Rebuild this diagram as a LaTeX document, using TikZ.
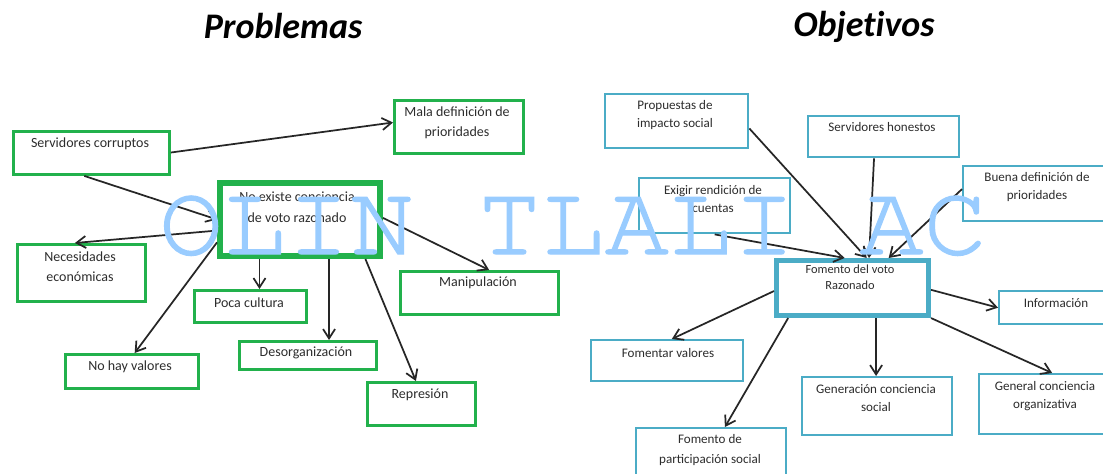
\documentclass[tikz,border=0pt]{standalone}
\usepackage{fontspec}
\setmainfont{Carlito}
\newfontfamily\wmfont{TeX Gyre Cursor}
\usetikzlibrary{arrows.meta,calc}
\definecolor{pgreen}{RGB}{34,177,76}
\definecolor{pteal}{RGB}{75,172,198}
\definecolor{wmblue}{RGB}{153,204,255}
\definecolor{txtc}{RGB}{45,45,45}
\newcommand\bx[6]{\node[#1, anchor=north west, minimum width={(#5-#3)*0.75pt}, minimum height={(#6-#4)*0.75pt}] (#2) at (#3,#4) {};}
\tikzset{
  gbox/.style={draw=pgreen, line width=2.2pt, inner sep=0pt, fill=white},
  gbig/.style={draw=pgreen, line width=4.5pt, inner sep=0pt, fill=white},
  tbox/.style={draw=pteal, line width=1.8pt, inner sep=0pt, fill=white},
  tbig/.style={draw=pteal, line width=3.8pt, inner sep=0pt, fill=white},
  ltxt/.style={text=txtc, font=\fontsize{10.5}{15}\selectfont, align=center, inner sep=0pt},
  rtxt/.style={text=txtc, font=\fontsize{9.8}{13.5}\selectfont, align=center, inner sep=0pt},
  ttl/.style={font=\fontsize{27}{30}\selectfont\bfseries\itshape\addfontfeatures{Ligatures=NoCommon}, anchor=base, inner sep=0pt},
  arr/.style={draw=black!85, line width=1.3pt, -{Straight Barb[length=7pt,width=9pt]}}
}
\begin{document}
\begin{tikzpicture}[x=0.75pt,y=-0.75pt]
\useasboundingbox[fill=white] (0,0) rectangle (1103,474);
% titles
\node[ttl] (tprob) at (283,39) {Problemas};
\node[ttl] (tobj) at (864,37) {Objetivos};
% ---------- left boxes ----------
\bx{gbox}{sc}{12}{130}{168}{173}
\bx{gbox}{mala}{393}{99}{522}{152}
\bx{gbig}{cen}{217}{180}{377}{253}
\bx{gbox}{nec}{16}{243}{144}{300}
\bx{gbox}{manip}{399}{270}{557}{313}
\bx{gbox}{poca}{193}{289}{305}{321}
\bx{gbox}{nohay}{64}{353}{197}{387}
\bx{gbox}{desorg}{238}{340}{375}{368}
\bx{gbox}{repr}{366}{381}{474}{424}
\node[ltxt] (tsc) at (90,144) {Servidores corruptos};
\node[ltxt] (tmala) at (457,123) {Mala definición de\\prioridades};
\node[ltxt, font=\fontsize{10.5}{16}\selectfont] (tcen) at (297,207.5) {No existe conciencia\\de voto razonado};
\node[ltxt] (tnec) at (80,267) {Necesidades\\económicas};
\node[ltxt] (tmanip) at (478,283) {Manipulación};
\node[ltxt] (tpoca) at (249,303) {Poca cultura};
\node[ltxt] (tnohay) at (130,367) {No hay valores};
\node[ltxt] (tdesorg) at (306,353) {Desorganización};
\node[ltxt] (trepr) at (420,395) {Represión};
% ---------- left arrows ----------
\draw[arr] ($(sc.north east)!0.49!(sc.south east)$) -- ($(mala.north west)!0.42!(mala.south west)$);
\draw[arr] ($(sc.south west)!0.455!(sc.south east)$) -- (cen.west);
\draw[arr] ($(cen.north west)!0.64!(cen.south west)$) -- ($(nec.north west)!0.45!(nec.north east)$);
\draw[arr] ($(cen.north west)!0.79!(cen.south west)$) -- ($(nohay.north west)!0.52!(nohay.north east)$);
\coordinate (cp) at ($(cen.south west)!0.256!(cen.south east)$);
\draw[arr] (cp) -- (cp |- poca.north);
\coordinate (cd) at ($(cen.south west)!0.675!(cen.south east)$);
\draw[arr] (cd) -- (cd |- desorg.north);
\draw[arr] ($(cen.south west)!0.894!(cen.south east)$) -- ($(repr.north west)!0.45!(repr.north east)$);
\draw[arr] ($(cen.north east)!0.48!(cen.south east)$) -- ($(manip.north west)!0.56!(manip.north east)$);
% ---------- right boxes ----------
\bx{tbox}{prop}{604}{93}{747}{147}
\bx{tbox}{hon}{807}{115}{958}{156}
\bx{tbox}{exig}{638}{177}{789}{232}
\bx{tbox}{buena}{962}{165}{1108}{220}
\bx{tbig}{fom}{774}{258}{926}{313}
\bx{tbox}{info}{998}{290}{1108}{323}
\bx{tbox}{val}{590}{339}{742}{380}
\bx{tbox}{gen}{801}{376}{951}{434}
\bx{tbox}{org}{978}{373}{1108}{433}
\bx{tbox}{part}{635}{427}{785}{482}
\node[rtxt] (tprop) at (675,115) {Propuestas de\\impacto social};
\node[rtxt] (thon) at (882,127) {Servidores honestos};
\node[rtxt] (texig) at (713,199) {Exigir rendición de\\cuentas};
\node[rtxt] (tbuena) at (1037,187.5) {Buena definición de\\prioridades};
\node[rtxt, font=\fontsize{9.3}{12}\selectfont] (tfom) at (850,277) {Fomento del voto\\Razonado};
\node[rtxt] (tinfo) at (1056,303) {Información};
\node[rtxt] (tval) at (668,353) {Fomentar valores};
\node[rtxt] (tgen) at (876,398) {Generación conciencia\\social};
\node[rtxt] (torg) at (1045,396) {General conciencia\\organizativa};
\node[rtxt, font=\fontsize{9.8}{15}\selectfont] (tpart) at (710,450) {Fomento de\\participación social};
% ---------- right arrows ----------
\draw[arr] ($(prop.north east)!0.63!(prop.south east)$) -- ($(fom.north west)!0.59!(fom.north east)$);
\draw[arr] ($(hon.south west)!0.437!(hon.south east)$) -- ($(fom.north west)!0.605!(fom.north east)$);
\draw[arr] (exig.south) -- ($(fom.north west)!0.45!(fom.north east)$);
\draw[arr] ($(buena.north west)!0.42!(buena.south west)$) -- ($(fom.north west)!0.73!(fom.north east)$);
\draw[arr] ($(fom.north east)!0.53!(fom.south east)$) -- (info.west);
\draw[arr] ($(fom.north west)!0.55!(fom.south west)$) -- ($(val.north west)!0.53!(val.north east)$);
\draw[arr] ($(fom.south west)!0.09!(fom.south east)$) -- ($(part.north west)!0.59!(part.north east)$);
\coordinate (cg) at ($(fom.south west)!0.65!(fom.south east)$);
\draw[arr] (cg) -- (cg |- gen.north);
\draw[arr] (fom.south east) -- ($(org.north west)!0.56!(org.north east)$);
% watermark
\node[text=wmblue, font=\wmfont\fontsize{79.6}{80}\selectfont, anchor=base west, inner sep=0pt] (wm) at (159,254) {\special{pdf:literal direct 0.6 0.8 1 RG 2 Tr 1.1 w}\scalebox{1}[0.95]{OLIN TLALI AC}\special{pdf:literal direct 0 Tr}};
\end{tikzpicture}
\end{document}
